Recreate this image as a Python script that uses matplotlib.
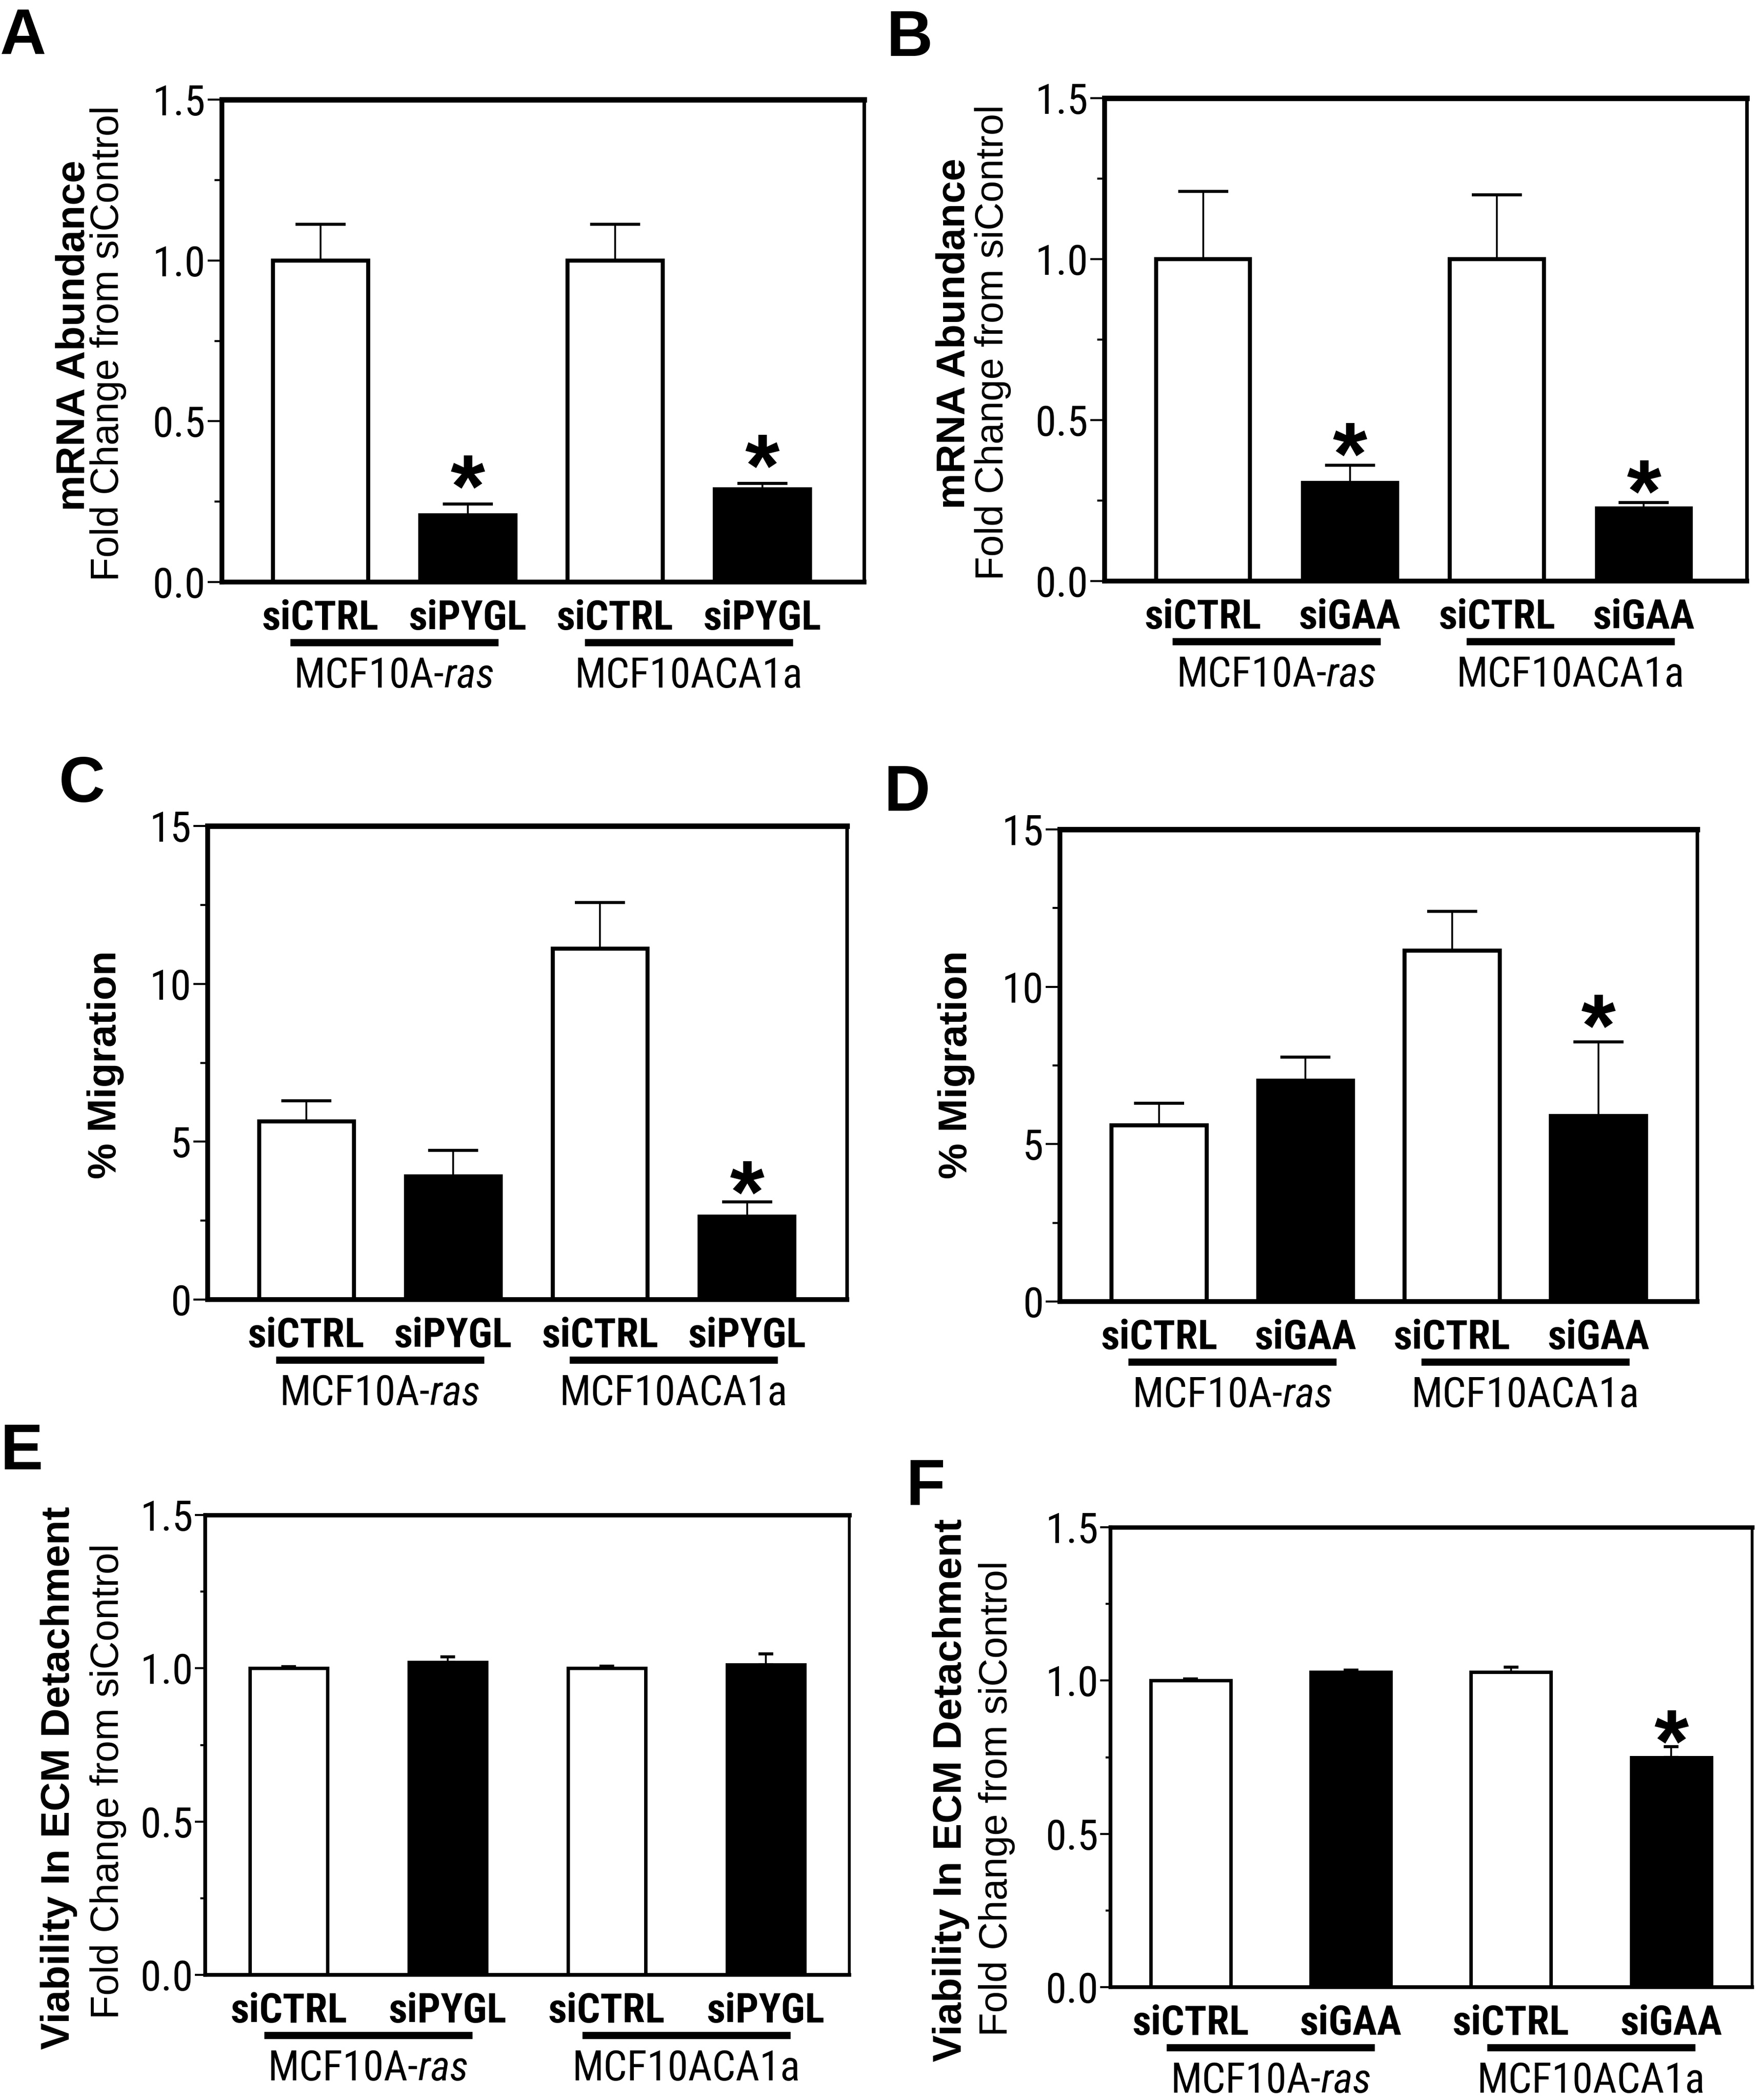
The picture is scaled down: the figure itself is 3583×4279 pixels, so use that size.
import matplotlib
matplotlib.use("Agg")
import matplotlib.pyplot as plt
import matplotlib.transforms as mtrans
from matplotlib import font_manager
from matplotlib.font_manager import FontProperties
from matplotlib.ticker import MultipleLocator, FormatStrFormatter
import numpy as np

# ---------------- data ----------------
cats_pygl = ["siCTRL", "siPYGL", "siCTRL", "siPYGL"]
cats_gaa = ["siCTRL", "siGAA", "siCTRL", "siGAA"]
cell_lines = [("MCF10A-", "ras"), ("MCF10ACA1a", "")]

A_vals = [1.0, 0.207, 1.0, 0.289]
A_errs = [0.112, 0.035, 0.112, 0.017]
A_star = [False, True, False, True]

B_vals = [1.0, 0.305, 1.0, 0.225]
B_errs = [0.21, 0.054, 0.20, 0.019]
B_star = [False, True, False, True]

C_vals = [5.65, 3.9, 11.12, 2.62]
C_errs = [0.65, 0.82, 1.45, 0.48]
C_star = [False, False, False, True]

D_vals = [5.6, 7.02, 11.15, 5.9]
D_errs = [0.7, 0.75, 1.25, 2.35]
D_star = [False, False, False, True]

E_vals = [1.0, 1.019, 1.0, 1.012]
E_errs = [0.005, 0.018, 0.007, 0.035]
E_star = [False, False, False, False]

F_vals = [1.0, 1.027, 1.027, 0.750]
F_errs = [0.006, 0.007, 0.017, 0.034]
F_star = [False, False, False, True]

ylab_mrna = ("mRNA Abundance", "Fold Change from siControl")
ylab_mig = ("% Migration", None)
ylab_via = ("Viability In ECM Detachment", "Fold Change from siControl")

# ---------------- fonts ----------------
W, H, DPI = 3583, 4279, 100
PX = 72.0 / DPI  # points per pixel
TT = font_manager.fontManager.ttflist
NARROW_STRETCH = ("condensed", "semi-condensed", "extra-condensed", "ultra-condensed")


def _w(f):
    w = f.weight
    if isinstance(w, str):
        w = font_manager.weight_dict.get(w, 400)
    return int(w)


def _group(order, need_narrow):
    for nm in order:
        c = [f for f in TT if f.name == nm]
        if need_narrow and not ("Narrow" in nm or "Condensed" in nm):
            c = [f for f in c if f.stretch in NARROW_STRETCH]
        if c:
            return c
    return None


def _pick(group, weight, italic):
    def score(f):
        it = f.style in ("italic", "oblique")
        return (0 if it == italic else 1000) + abs(_w(f) - weight)
    return min(group, key=score).fname


arial = _group(["Liberation Sans", "Arimo", "DejaVu Sans"], False)
narrow = _group(["Liberation Sans Narrow", "Arial Narrow", "Roboto Condensed",
                 "Open Sans Condensed", "Noto Sans Condensed", "Noto Sans",
                 "Open Sans", "DejaVu Sans Condensed", "DejaVu Sans"], True) or arial

F_ARIAL_R = _pick(arial, 400, False)
F_ARIAL_B = _pick(arial, 700, False)
F_NAR_R = _pick(narrow, 400, False)
F_NAR_B = _pick(narrow, 700, False)
F_NAR_I = _pick(narrow, 400, True)


def fp(fname, size):
    return FontProperties(fname=fname, size=size)


fig = plt.figure(figsize=(W / DPI, H / DPI), dpi=DPI)
fig.patch.set_facecolor("white")
renderer = fig.canvas.get_renderer()


def text_w(s, fname, size):
    w, h, d = renderer.get_text_width_height_descent(s, fp(fname, size), ismath=False)
    return w


def fit(s, fname, target_px, max_size):
    w100 = text_w(s, fname, 100)
    return min(max_size, 100.0 * target_px / w100)


SZ_TICK = fit("1.5", F_NAR_R, 108, 66)
SZ_CAT = fit("siCTRL", F_NAR_B, 241, 60)
SZ_GRP = fit("MCF10ACA1a", F_NAR_R, 465, 62)

panels = [
    dict(letter="A", lpos=(0, 14), box=(452, 203, 1760, 1186), vals=A_vals, errs=A_errs, star=A_star,
         cats=cats_pygl, ymax=1.5, major=0.5, fmt="%.1f", xlim=(-0.67, 3.69), bw=0.645,
         ylab=ylab_mrna, ylx=(151, 221), yly=(684, 700), lw=7, blw=6, cap=37, star_gap=75, thin=False),
    dict(letter="B", lpos=(1805, 18), box=(2250, 200, 3558, 1184), vals=B_vals, errs=B_errs, star=B_star,
         cats=cats_gaa, ymax=1.5, major=0.5, fmt="%.1f", xlim=(-0.67, 3.70), bw=0.64,
         ylab=ylab_mrna, ylx=(1944, 2022), yly=(680, 698), lw=7, blw=6, cap=37, star_gap=62, thin=False),
    dict(letter="C", lpos=(120, 1538), box=(423, 1683, 1725, 2648), vals=C_vals, errs=C_errs, star=C_star,
         cats=cats_pygl, ymax=15, major=5, fmt="%d", xlim=(-0.672, 3.68), bw=0.645,
         ylab=ylab_mig, ylx=(215, None), yly=(2170, None), lw=7, blw=6, cap=37, star_gap=58, thin=False),
    dict(letter="D", lpos=(1800, 1556), box=(2159, 1690, 3457, 2652), vals=D_vals, errs=D_errs, star=D_star,
         cats=cats_gaa, ymax=15, major=5, fmt="%d", xlim=(-0.678, 3.674), bw=0.65,
         ylab=ylab_mig, ylx=(1948, None), yly=(2170, None), lw=7, blw=6, cap=37, star_gap=72, thin=False),
    dict(letter="E", lpos=(0, 2898), box=(418, 3087, 1730, 4024), vals=E_vals, errs=E_errs, star=E_star,
         cats=cats_pygl, ymax=1.5, major=0.5, fmt="%.1f", xlim=(-0.525, 3.525), bw=0.49,
         ylab=ylab_via, ylx=(120, 221), yly=(3623, 3630), lw=5.5, blw=5, cap=11, star_gap=55, thin=True),
    dict(letter="F", lpos=(1845, 2969), box=(2262, 3112, 3569, 4049), vals=F_vals, errs=F_errs, star=F_star,
         cats=cats_gaa, ymax=1.5, major=0.5, fmt="%.1f", xlim=(-0.5, 3.505), bw=0.5,
         ylab=ylab_via, ylx=(1937, 2030), yly=(3648, 3665), lw=5.5, blw=5, cap=11, star_gap=50, thin=True),
]

for p in panels:
    x0, y0, x1, y1 = p["box"]
    ax = fig.add_axes([x0 / W, 1 - y1 / H, (x1 - x0) / W, (y1 - y0) / H])
    xs = np.arange(len(p["vals"]))
    vals = np.array(p["vals"])
    errs = np.array(p["errs"])
    colors = ["white" if c == "siCTRL" else "black" for c in p["cats"]]

    ax.errorbar(xs, vals, yerr=[np.zeros_like(errs), errs], fmt="none", ecolor="black",
                elinewidth=2.6, capsize=p["cap"], capthick=4.5, zorder=1.5)
    ax.bar(xs, vals, p["bw"], color=colors, edgecolor="black", linewidth=p["blw"], zorder=2)

    ax.set_xlim(*p["xlim"])
    ax.set_ylim(0, p["ymax"])
    ax.set_xticks([])
    ax.yaxis.set_major_locator(MultipleLocator(p["major"]))
    ax.yaxis.set_minor_locator(MultipleLocator(p["major"] / 2))
    ax.yaxis.set_major_formatter(FormatStrFormatter(p["fmt"]))
    tl = 15 if p["thin"] else 21
    ax.tick_params(axis="y", which="major", direction="out", length=tl, width=3, pad=3,
                   left=True, right=False)
    ax.tick_params(axis="y", which="minor", direction="out", length=tl * 0.5, width=3)
    for lab in ax.get_yticklabels():
        lab.set_fontproperties(fp(F_NAR_R, SZ_TICK))
    for side, sp in ax.spines.items():
        sp.set_linewidth(p["lw"] if side != "right" else p["lw"] * 0.75)
        sp.set_color("black")
        sp.set_zorder(3)
    ax.spines["top"].set_linewidth(p["lw"] * 1.15)

    # category labels
    for x, c in zip(xs, p["cats"]):
        ax.annotate(c, xy=(x, 0), xycoords=("data", "axes fraction"),
                    xytext=(0, -97 * PX), textcoords="offset points",
                    ha="center", va="baseline", fontproperties=fp(F_NAR_B, SZ_CAT),
                    annotation_clip=False)

    # group underline + cell line name
    ppu = (x1 - x0) / (p["xlim"][1] - p["xlim"][0])
    half = 212.0 / ppu
    blend = mtrans.blended_transform_factory(ax.transData, ax.transAxes)
    yline = -123.0 / (y1 - y0)
    for g, (name, ital) in enumerate(cell_lines):
        mid = 2 * g + 0.5
        ax.plot([mid - half, mid + half], [yline, yline], transform=blend, color="black",
                lw=10.5, solid_capstyle="butt", clip_on=False)
        w1 = text_w(name, F_NAR_R, SZ_GRP)
        w2 = text_w(ital, F_NAR_I, SZ_GRP) if ital else 0.0
        start = -(w1 + w2) / 2.0
        ax.annotate(name, xy=(mid, 0), xycoords=("data", "axes fraction"),
                    xytext=(start * PX, -215 * PX), textcoords="offset points",
                    ha="left", va="baseline", fontproperties=fp(F_NAR_R, SZ_GRP),
                    annotation_clip=False)
        if ital:
            ax.annotate(ital, xy=(mid, 0), xycoords=("data", "axes fraction"),
                        xytext=((start + w1) * PX, -215 * PX), textcoords="offset points",
                        ha="left", va="baseline", fontproperties=fp(F_NAR_I, SZ_GRP),
                        annotation_clip=False)

    # significance stars
    for x, v, e, s in zip(xs, vals, errs, p["star"]):
        if s:
            ax.annotate("*", xy=(x, v + e), xycoords="data",
                        xytext=(0, (p["star_gap"] - 100) * PX), textcoords="offset points",
                        ha="center", va="baseline", fontproperties=fp(F_ARIAL_B, 130),
                        annotation_clip=False)

    # y labels
    bold_lab, reg_lab = p["ylab"]
    fig.text(p["ylx"][0] / W, 1 - p["yly"][0] / H, bold_lab, rotation=90, ha="center", va="center",
             fontproperties=fp(F_ARIAL_B, 59))
    if reg_lab:
        fig.text(p["ylx"][1] / W, 1 - p["yly"][1] / H, reg_lab, rotation=90, ha="center", va="center",
                 fontproperties=fp(F_ARIAL_R, 57))

    # panel letter
    fig.text(p["lpos"][0] / W, 1 - p["lpos"][1] / H, p["letter"], ha="left", va="top",
             fontproperties=fp(F_ARIAL_B, 94))

fig.savefig("out.png", dpi=DPI, facecolor="white")
